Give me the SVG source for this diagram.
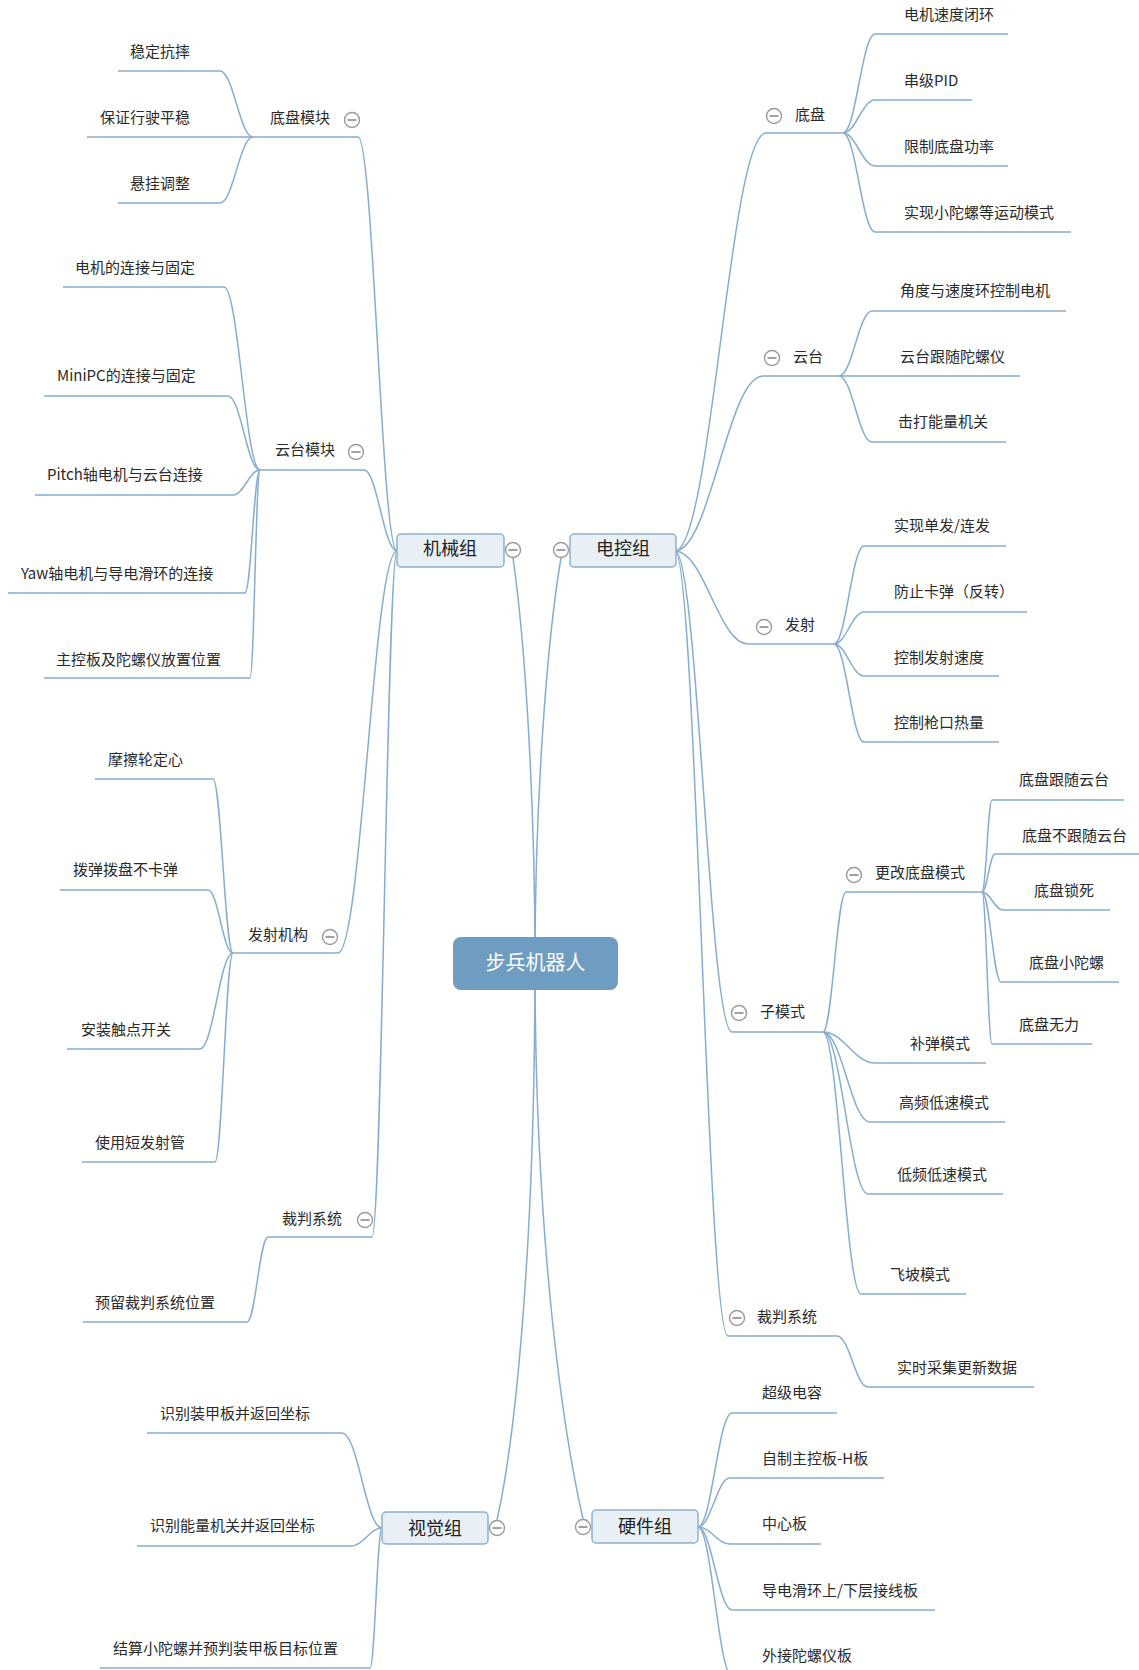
<svg xmlns="http://www.w3.org/2000/svg" xmlns:xlink="http://www.w3.org/1999/xlink" width="1139" height="1670" viewBox="0 0 1139 1670">
<style>
.ln{fill:none;stroke:#86adcf;stroke-width:1.5}
.t{font-family:"Noto Sans CJK SC","Liberation Sans",sans-serif;font-size:15px;fill:#2a2a2a}
.bt{font-family:"Noto Sans CJK SC","Liberation Sans",sans-serif;font-size:18px;fill:#222;text-anchor:middle}
.rt{font-family:"Noto Sans CJK SC","Liberation Sans",sans-serif;font-size:20px;fill:#ffffff;text-anchor:middle}
.box{fill:#e9f0f5;stroke:#8eb1cf;stroke-width:1.5}
.root{fill:#6f9dc2}
</style>
<defs>
<g id="minus"><circle cx="0" cy="0" r="7.5" fill="#ffffff" stroke="#9a9a9a" stroke-width="1.4"/><line x1="-4.5" y1="0" x2="4.5" y2="0" stroke="#8a8a8a" stroke-width="1.6"/></g>
</defs>
<rect width="1139" height="1670" fill="#ffffff"/>
<g id="connectors">
<!-- root -->
<path class="ln" d="M535,963 C535,800 525,640 513,558"/>
<path class="ln" d="M535,963 C535,800 547,640 561,558"/>
<path class="ln" d="M535,963 C535,1250 515,1440 497,1520"/>
<path class="ln" d="M535,963 C535,1250 565,1440 583,1519"/>
<!-- 机械组 -->
<path class="ln" d="M397,551 C381.4,551 373.6,137 358,137 H253"/>
<path class="ln" d="M397,551 C383.8,551 377.2,470 364,470 H260"/>
<path class="ln" d="M397,551 C373.4,551 361.6,953 338,953 H233"/>
<path class="ln" d="M397,551 C387,551 382,1237 372,1237 H268"/>
<path class="ln" d="M253,137 C239.8,137 233.2,71 220,71 H118"/>
<path class="ln" d="M253,137 H87"/>
<path class="ln" d="M253,137 C239.8,137 233.2,203 220,203 H118"/>
<path class="ln" d="M260,470 C245.6,470 238.4,287 224,287 H63"/>
<path class="ln" d="M260,470 C247.2,470 240.8,396 228,396 H44"/>
<path class="ln" d="M260,470 C249.2,470 243.8,495 233,495 H35"/>
<path class="ln" d="M260,470 C254,470 251,593 245,593 H8"/>
<path class="ln" d="M260,470 C256,470 254,678 250,678 H44"/>
<path class="ln" d="M233,953 C225,953 221,779 213,779 H95"/>
<path class="ln" d="M233,953 C223,953 218,890 208,890 H60"/>
<path class="ln" d="M233,953 C219.8,953 213.2,1049 200,1049 H67"/>
<path class="ln" d="M233,953 C225.8,953 222.2,1162 215,1162 H82"/>
<path class="ln" d="M268,1237 C259.6,1237 255.4,1322 247,1322 H83"/>
<!-- 视觉组 -->
<path class="ln" d="M382,1528 C366,1528 358,1433 342,1433 H147"/>
<path class="ln" d="M382,1528 C369.6,1528 363.4,1546 351,1546 H137"/>
<path class="ln" d="M382,1528 C377.2,1528 374.8,1668 370,1668 H100"/>
<!-- 电控组 -->
<path class="ln" d="M675,551 C711.4,551 729.6,133 766,133 H843"/>
<path class="ln" d="M675,551 C710.2,551 727.8,376 763,376 H839"/>
<path class="ln" d="M675,551 C704.2,551 718.8,644 748,644 H834"/>
<path class="ln" d="M675,551 C697.8,551 709.2,1032 732,1032 H823"/>
<path class="ln" d="M675,551 C696.2,551 706.8,1336 728,1336 H837"/>
<path class="ln" d="M843,133 C855.8,133 862.2,34 875,34 H1008"/>
<path class="ln" d="M843,133 C855.8,133 862.2,100 875,100 H972"/>
<path class="ln" d="M843,133 C855.8,133 862.2,166 875,166 H1008"/>
<path class="ln" d="M843,133 C855.8,133 862.2,232 875,232 H1071"/>
<path class="ln" d="M839,376 C852.2,376 858.8,311 872,311 H1066"/>
<path class="ln" d="M839,376 H1020"/>
<path class="ln" d="M839,376 C852.2,376 858.8,442 872,442 H1006"/>
<path class="ln" d="M834,644 C846,644 852,546 864,546 H1006"/>
<path class="ln" d="M834,644 C846,644 852,612 864,612 H1027"/>
<path class="ln" d="M834,644 C846,644 852,676 864,676 H999"/>
<path class="ln" d="M834,644 C846,644 852,742 864,742 H999"/>
<path class="ln" d="M823,1032 C832.2,1032 836.8,892 846,892 H982"/>
<path class="ln" d="M823,1032 C843.8,1032 854.2,1063 875,1063 H986"/>
<path class="ln" d="M823,1032 C841.8,1032 851.2,1122 870,1122 H1005"/>
<path class="ln" d="M823,1032 C841,1032 850,1194 868,1194 H1003"/>
<path class="ln" d="M823,1032 C838.2,1032 845.8,1294 861,1294 H966"/>
<path class="ln" d="M982,892 C986,892 988,800 992,800 H1124"/>
<path class="ln" d="M982,892 C987.2,892 989.8,854 995,854 H1139"/>
<path class="ln" d="M982,892 C990.4,892 994.6,910 1003,910 H1110"/>
<path class="ln" d="M982,892 C989.6,892 993.4,982 1001,982 H1119"/>
<path class="ln" d="M982,892 C986,892 988,1044 992,1044 H1092"/>
<path class="ln" d="M837,1336 C849.4,1336 855.6,1387 868,1387 H1034"/>
<!-- 硬件组 -->
<path class="ln" d="M698,1527 C711.6,1527 718.4,1413 732,1413 H837"/>
<path class="ln" d="M698,1527 C710.8,1527 717.2,1478 730,1478 H884"/>
<path class="ln" d="M698,1527 C710.8,1527 717.2,1544 730,1544 H821"/>
<path class="ln" d="M698,1527 C711.6,1527 718.4,1610 732,1610 H935"/>
<path class="ln" d="M698,1527 C711.6,1527 718.4,1676 732,1676 H880"/>
</g>
<g id="node-root"><rect class="root" x="453" y="937" width="165" height="53" rx="8"/><text class="rt" x="535.5" y="970">步兵机器人</text></g>
<g id="node-jixie"><rect class="box" x="397" y="534" width="107" height="33" rx="4"/><text class="bt" x="450" y="554.5">机械组</text><use xlink:href="#minus" x="513" y="550"/></g>
<g id="node-diankong"><rect class="box" x="570" y="534" width="106" height="33" rx="4"/><text class="bt" x="623" y="554.5">电控组</text><use xlink:href="#minus" x="561" y="550"/></g>
<g id="node-shijue"><rect class="box" x="382" y="1512" width="106" height="32" rx="4"/><text class="bt" x="435" y="1534.5">视觉组</text><use xlink:href="#minus" x="497" y="1528"/></g>
<g id="node-yingjian"><rect class="box" x="592" y="1510" width="106" height="33" rx="4"/><text class="bt" x="645" y="1533">硬件组</text><use xlink:href="#minus" x="583" y="1527"/></g>
<!-- left level 2 -->
<g id="node-dipanmokuai"><text class="t" x="270" y="122.5">底盘模块</text><use xlink:href="#minus" x="352" y="120"/></g>
<g id="node-yuntaimokuai"><text class="t" x="275" y="454.5">云台模块</text><use xlink:href="#minus" x="356" y="452"/></g>
<g id="node-fashejigou"><text class="t" x="248" y="939.5">发射机构</text><use xlink:href="#minus" x="330" y="937"/></g>
<g id="node-caipan-l"><text class="t" x="282" y="1223.5">裁判系统</text><use xlink:href="#minus" x="365" y="1220"/></g>
<!-- left level 3 -->
<g id="node-l1"><text class="t" x="130" y="56.5">稳定抗摔</text></g>
<g id="node-l2"><text class="t" x="100" y="122.5">保证行驶平稳</text></g>
<g id="node-l3"><text class="t" x="130" y="188.5">悬挂调整</text></g>
<g id="node-l4"><text class="t" x="75" y="272.5">电机的连接与固定</text></g>
<g id="node-l5"><text class="t" x="57" y="380.5">MiniPC的连接与固定</text></g>
<g id="node-l6"><text class="t" x="47" y="479.5">Pitch轴电机与云台连接</text></g>
<g id="node-l7"><text class="t" x="21" y="578.5">Yaw轴电机与导电滑环的连接</text></g>
<g id="node-l8"><text class="t" x="56" y="664.5">主控板及陀螺仪放置位置</text></g>
<g id="node-l9"><text class="t" x="108" y="764.5">摩擦轮定心</text></g>
<g id="node-l10"><text class="t" x="73" y="874.5">拨弹拨盘不卡弹</text></g>
<g id="node-l11"><text class="t" x="81" y="1034.5">安装触点开关</text></g>
<g id="node-l12"><text class="t" x="95" y="1147.5">使用短发射管</text></g>
<g id="node-l13"><text class="t" x="95" y="1307.5">预留裁判系统位置</text></g>
<g id="node-v1"><text class="t" x="160" y="1418.5">识别装甲板并返回坐标</text></g>
<g id="node-v2"><text class="t" x="150" y="1530.5">识别能量机关并返回坐标</text></g>
<g id="node-v3"><text class="t" x="113" y="1653.5">结算小陀螺并预判装甲板目标位置</text></g>
<!-- right level 2 -->
<g id="node-dipan"><use xlink:href="#minus" x="774" y="116"/><text class="t" x="795" y="119.5">底盘</text></g>
<g id="node-yuntai"><use xlink:href="#minus" x="772" y="358"/><text class="t" x="793" y="361.5">云台</text></g>
<g id="node-fashe"><use xlink:href="#minus" x="764" y="627"/><text class="t" x="785" y="629.5">发射</text></g>
<g id="node-zimoshi"><use xlink:href="#minus" x="739" y="1013"/><text class="t" x="760" y="1016.5">子模式</text></g>
<g id="node-caipan-r"><use xlink:href="#minus" x="737" y="1318"/><text class="t" x="757" y="1321.5">裁判系统</text></g>
<g id="node-genggai"><use xlink:href="#minus" x="854" y="875"/><text class="t" x="875" y="877.5">更改底盘模式</text></g>
<!-- right level 3 -->
<g id="node-r1"><text class="t" x="904" y="19.5">电机速度闭环</text></g>
<g id="node-r2"><text class="t" x="904" y="85.5">串级PID</text></g>
<g id="node-r3"><text class="t" x="904" y="151.5">限制底盘功率</text></g>
<g id="node-r4"><text class="t" x="904" y="217.5">实现小陀螺等运动模式</text></g>
<g id="node-r5"><text class="t" x="900" y="295.5">角度与速度环控制电机</text></g>
<g id="node-r6"><text class="t" x="900" y="361.5">云台跟随陀螺仪</text></g>
<g id="node-r7"><text class="t" x="898" y="426.5">击打能量机关</text></g>
<g id="node-r8"><text class="t" x="894" y="530.5">实现单发/连发</text></g>
<g id="node-r9"><text class="t" x="894" y="596.5">防止卡弹（反转）</text></g>
<g id="node-r10"><text class="t" x="894" y="662.5">控制发射速度</text></g>
<g id="node-r11"><text class="t" x="894" y="727.5">控制枪口热量</text></g>
<g id="node-r12"><text class="t" x="1019" y="784.5">底盘跟随云台</text></g>
<g id="node-r13"><text class="t" x="1022" y="840.5">底盘不跟随云台</text></g>
<g id="node-r14"><text class="t" x="1034" y="895.5">底盘锁死</text></g>
<g id="node-r15"><text class="t" x="1029" y="967.5">底盘小陀螺</text></g>
<g id="node-r16"><text class="t" x="1019" y="1029.5">底盘无力</text></g>
<g id="node-r17"><text class="t" x="910" y="1048.5">补弹模式</text></g>
<g id="node-r18"><text class="t" x="899" y="1107.5">高频低速模式</text></g>
<g id="node-r19"><text class="t" x="897" y="1179.5">低频低速模式</text></g>
<g id="node-r20"><text class="t" x="890" y="1279.5">飞坡模式</text></g>
<g id="node-r21"><text class="t" x="897" y="1372.5">实时采集更新数据</text></g>
<g id="node-h1"><text class="t" x="762" y="1397.5">超级电容</text></g>
<g id="node-h2"><text class="t" x="762" y="1463.5">自制主控板-H板</text></g>
<g id="node-h3"><text class="t" x="762" y="1528.5">中心板</text></g>
<g id="node-h4"><text class="t" x="762" y="1595.5">导电滑环上/下层接线板</text></g>
<g id="node-h5"><text class="t" x="762" y="1660.5">外接陀螺仪板</text></g>
</svg>
